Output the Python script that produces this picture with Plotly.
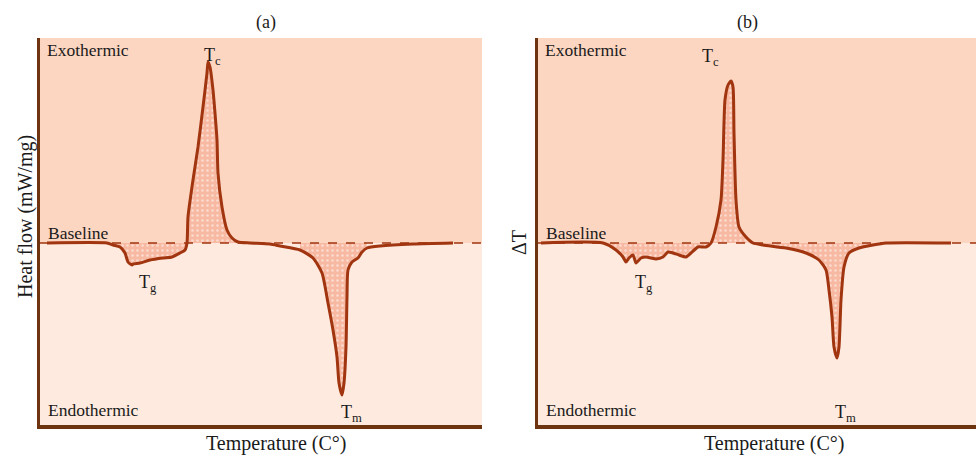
import plotly.graph_objects as go
import numpy as np

# ---------------- data (schematic DSC / DTA curves) ----------------
# panel (a): DSC heat flow, x = temperature (arb.), y = heat flow (arb., baseline = 0)
temp_a = [7, 67, 73, 80, 85, 88, 92, 93, 100, 110, 123, 132, 140, 145, 147,
          148, 153, 158, 163, 167, 168, 170, 173, 175, 177, 178, 182, 187, 192, 198, 210, 230,
          240, 260, 273, 282, 288, 293, 297, 299, 302, 304, 306, 307, 308, 312, 318, 322, 327, 340, 373, 413]
flow_a = [0, 0, -2, -4, -10, -19, -22, -21, -20, -17, -15, -14, -10, -7, 0,
          26, 63, 96, 136, 170, 181, 176, 153, 130, 103, 70, 36, 13, 5, 1, 0, -1,
          -3, -7, -15, -30, -60, -87, -114, -140, -152, -140, -104, -54, -27, -19, -15, -9, -5, -3, -1, 0]

# panel (b): DTA, x = temperature (arb.), y = delta T (arb., baseline = 0)
temp_b = [3, 65, 78, 85, 88, 91, 95, 98, 103, 108, 113, 118, 125, 130, 135, 141, 148,
          153, 160, 168, 173, 178, 183, 185, 187, 190, 193, 195, 196, 198, 201, 208, 215,
          225, 248, 268, 281, 288, 291, 294, 296, 299, 301, 303, 306, 311, 321, 335, 348, 413]
dT_b = [0, 0, -7, -14, -19, -15, -12, -20, -15, -14, -15, -16, -14, -9, -10, -12, -14,
        -10, -4, -4, 0, 16, 43, 83, 143, 158, 162, 156, 110, 43, 16, 6, 0,
        -2, -5, -10, -17, -27, -47, -74, -104, -115, -104, -57, -24, -10, -5, -2, 0, 0]

panel_titles = ["(a)", "(b)"]
x_title = "Temperature (C°)"
y_titles = ["Heat flow (mW/mg)", "ΔT"]

# ---------------- styling ----------------
W, H = 976, 455
LINE = "#A0350F"
AXIS = "#6E3410"
EXO = "#FDD6C2"
ENDO = "#FEEADF"
FILLC = "#F7B9A2"
FONT = "Liberation Serif"


def px(x):
    return x / W


def py(y):
    return 1 - y / H


fig = go.Figure()

dom_y = [py(425), py(38)]
yr = [-182, 205]
panels = [
    dict(x=temp_a, y=flow_a, xd=[px(40), px(482)], xr=[0, 442],
         segs=[(60, 148), (147, 205), (250, 330)]),
    dict(x=temp_b, y=dT_b, xd=[px(538), 1.0], xr=[0, 438],
         segs=[(60, 174), (173, 212), (215, 349)]),
]

for i, p in enumerate(panels):
    xa = "x" if i == 0 else "x2"
    ya = "y" if i == 0 else "y2"
    xarr = np.array(p["x"], dtype=float)
    yarr = np.array(p["y"], dtype=float)
    # dotted fills under the peaks
    for (a, b) in p["segs"]:
        m = (xarr >= a) & (xarr <= b)
        fig.add_trace(go.Scatter(
            x=xarr[m], y=yarr[m], mode="lines", xaxis=xa, yaxis=ya,
            line=dict(width=0, shape="spline", smoothing=0.6),
            fill="tozeroy", fillcolor=FILLC,
            fillpattern=dict(shape=".", bgcolor=FILLC, fgcolor="white",
                             size=5, solidity=0.2),
            hoverinfo="skip", showlegend=False))
    # dashed baseline
    fig.add_trace(go.Scatter(
        x=p["xr"], y=[0, 0], mode="lines", xaxis=xa, yaxis=ya,
        line=dict(color=LINE, width=1.5, dash="dash"),
        hoverinfo="skip", showlegend=False))
    # curve
    fig.add_trace(go.Scatter(
        x=xarr, y=yarr, mode="lines", xaxis=xa, yaxis=ya,
        line=dict(color=LINE, width=3, shape="spline", smoothing=0.6),
        showlegend=False))

    # background zones
    ref = "x domain" if i == 0 else "x2 domain"
    fig.add_shape(type="rect", xref=ref, yref=ya, x0=0, x1=1, y0=0, y1=yr[1],
                  fillcolor=EXO, line_width=0, layer="below")
    fig.add_shape(type="rect", xref=ref, yref=ya, x0=0, x1=1, y0=yr[0], y1=0,
                  fillcolor=ENDO, line_width=0, layer="below")

axis_common = dict(showgrid=False, zeroline=False, showticklabels=False,
                   ticks="", fixedrange=True)
fig.update_layout(
    width=W, height=H, margin=dict(l=0, r=0, t=0, b=0),
    paper_bgcolor="white", plot_bgcolor="rgba(0,0,0,0)",
    xaxis=dict(domain=panels[0]["xd"], range=panels[0]["xr"], anchor="y",
               showline=True, linecolor=AXIS, linewidth=4, **axis_common),
    yaxis=dict(domain=dom_y, range=yr, anchor="x",
               showline=True, linecolor=AXIS, linewidth=3, **axis_common),
    xaxis2=dict(domain=panels[1]["xd"], range=panels[1]["xr"], anchor="y2",
                showline=True, linecolor=AXIS, linewidth=4, **axis_common),
    yaxis2=dict(domain=dom_y, range=yr, anchor="x2",
                showline=True, linecolor=AXIS, linewidth=3, **axis_common),
    font=dict(family=FONT, color="#1a1a1a"),
)


def ann(text, x, y, size=17, xanchor="left", yanchor="middle", angle=0):
    fig.add_annotation(text=text, x=px(x), y=py(y), xref="paper", yref="paper",
                       showarrow=False, xanchor=xanchor, yanchor=yanchor,
                       textangle=angle, font=dict(family=FONT, size=size, color="#1a1a1a"))


# panel (a) texts
ann(panel_titles[0], 266, 22, size=18, xanchor="center")
ann(x_title, 276, 443, size=20, xanchor="center")
ann(y_titles[0], 25, 217, size=20, xanchor="center", angle=-90)
ann("Exothermic", 45, 50, size=17.5)
ann("Baseline", 46, 233, size=17.5)
ann("Endothermic", 46, 410, size=17.5)
ann("T<sub>c</sub>", 202, 56, size=18)
ann("T<sub>g</sub>", 137, 283, size=18)
ann("T<sub>m</sub>", 339, 413, size=18)

# panel (b) texts
ann(panel_titles[1], 747, 22, size=18, xanchor="center")
ann(x_title, 774, 443, size=20, xanchor="center")
ann(y_titles[1], 519, 243, size=20, xanchor="center", angle=-90)
ann("Exothermic", 543, 50, size=17.5)
ann("Baseline", 544, 233, size=17.5)
ann("Endothermic", 544, 410, size=17.5)
ann("T<sub>c</sub>", 700, 57, size=18)
ann("T<sub>g</sub>", 633, 283, size=18)
ann("T<sub>m</sub>", 833, 413, size=18)

fig.write_html("out.html", config={"displayModeBar": False},
               post_script="document.body.style.margin='0px';")
